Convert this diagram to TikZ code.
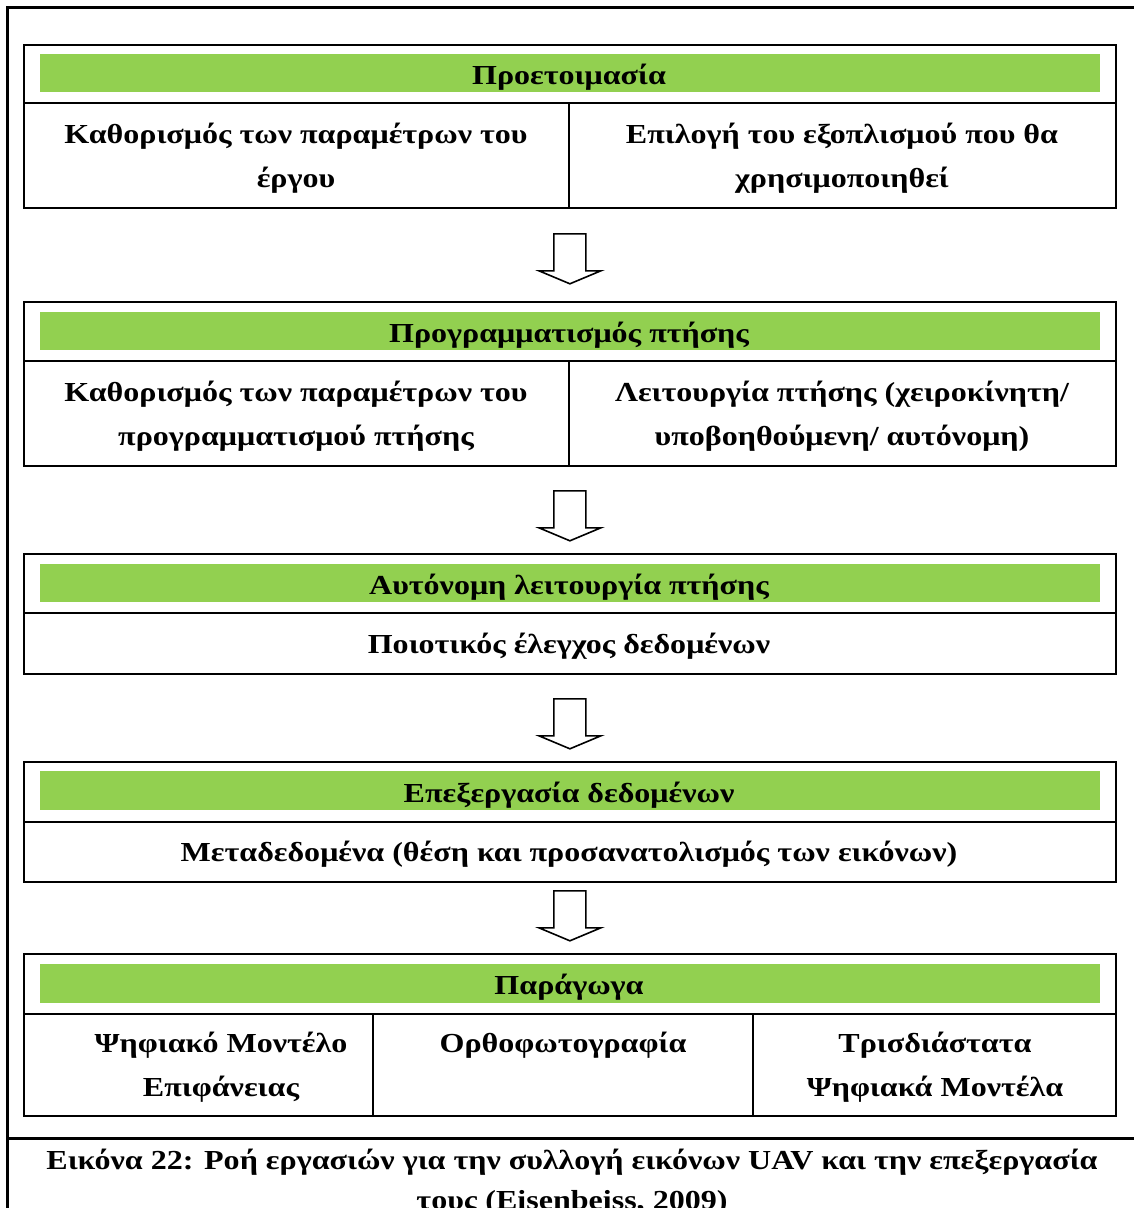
\documentclass[tikz,border=0pt]{standalone}
\usepackage{fontspec}
\setmainfont{Liberation Serif}[FakeStretch=1.165]
\usetikzlibrary{calc}
\definecolor{barGreen}{HTML}{92D050}
\newcommand{\cellfont}{\fontsize{27.5}{44}\selectfont\bfseries}
\newcommand{\twolines}[2]{\begin{tabular}[t]{@{}c@{}}#1\\#2\end{tabular}}
\begin{document}
\begin{tikzpicture}[x=1pt,y=-1pt,
  frame/.style={line width=3pt},
  boxline/.style={line width=1.8pt},
  stagebox/.style={draw, line width=1.8pt, anchor=north west, inner sep=0pt, minimum width=1092pt},
  bar/.style={fill=barGreen, draw=none, inner sep=0pt, minimum width=1060pt, minimum height=38.5pt},
  ttl/.style={font=\cellfont, anchor=base, inner sep=0pt},
  txt/.style={font=\cellfont, anchor=base, inner sep=0pt, align=center},
  blockarrow/.style={draw, line width=1.6pt, fill=white, line join=miter},
]
\useasboundingbox (0,0) rectangle (1134,1208);
% outer frame
\draw[frame] (7,1208) -- (7,7) -- (1134,7);
\draw[frame] (7,1138) -- (1134,1138);

% ---------- Stage 1 ----------
\node[stagebox, minimum height=163pt] (b1) at (23,44) {};
\node[bar] (g1) at (570,73) {};
\node[ttl] (t1) at (569,84) {Προετοιμασία};
\draw[boxline] (23,103) -- (1115,103);
\draw[boxline] (569,103) -- (569,207);
\node[txt] (c11) at (296,143) {\twolines{Καθορισμός των παραμέτρων του}{έργου}};
\node[txt] (c12) at (842,143) {\twolines{Επιλογή του εξοπλισμού που θα}{χρησιμοποιηθεί}};

% ---------- Stage 2 ----------
\node[stagebox, minimum height=164pt] (b2) at (23,301) {};
\node[bar] (g2) at (570,331) {};
\node[ttl] (t2) at (569,342) {Προγραμματισμός πτήσης};
\draw[boxline] (23,361) -- (1115,361);
\draw[boxline] (569,361) -- (569,465);
\node[txt] (c21) at (296,401) {\twolines{Καθορισμός των παραμέτρων του}{προγραμματισμού πτήσης}};
\node[txt] (c22) at (842,401) {\twolines{Λειτουργία πτήσης (χειροκίνητη/}{υποβοηθούμενη/ αυτόνομη)}};

% ---------- Stage 3 ----------
\node[stagebox, minimum height=120pt] (b3) at (23,553) {};
\node[bar] (g3) at (570,583) {};
\node[ttl] (t3) at (569,594) {Αυτόνομη λειτουργία πτήσης};
\draw[boxline] (23,613) -- (1115,613);
\node[txt] (c31) at (569,653) {Ποιοτικός έλεγχος δεδομένων};

% ---------- Stage 4 ----------
\node[stagebox, minimum height=120pt] (b4) at (23,761) {};
\node[bar] (g4) at (570,790.5) {};
\node[ttl] (t4) at (569,802) {Επεξεργασία δεδομένων};
\draw[boxline] (23,822) -- (1115,822);
\node[txt] (c41) at (569,861) {Μεταδεδομένα (θέση και προσανατολισμός των εικόνων)};

% ---------- Stage 5 ----------
\node[stagebox, minimum height=162pt] (b5) at (23,953) {};
\node[bar] (g5) at (570,983.5) {};
\node[ttl] (t5) at (569,994.5) {Παράγωγα};
\draw[boxline] (23,1014) -- (1115,1014);
\draw[boxline] (373,1014) -- (373,1115);
\draw[boxline] (753,1014) -- (753,1115);
\node[txt] (c51) at (221,1052) {\twolines{Ψηφιακό Μοντέλο}{Επιφάνειας}};
\node[txt] (c52) at (563,1052) {Ορθοφωτογραφία};
\node[txt] (c53) at (935,1052) {\twolines{Τρισδιάστατα}{Ψηφιακά Μοντέλα}};

% ---------- arrows between stages ----------
\coordinate (a1) at ($(b1.south)+(0,25)$);
\coordinate (a2) at ($(b2.south)+(0,24)$);
\coordinate (a3) at ($(b3.south)+(0,24)$);
\coordinate (a4) at ($(b4.south)+(0,8)$);
\foreach \a in {a1,a2,a3,a4}{
  \draw[blockarrow, shift={(\a)}] (-16,0) -- (16,0) -- (16,37) -- (31,37) -- (0,50) -- (-31,37) -- (-16,37) -- cycle;
}

% ---------- caption ----------
\node[font=\fontsize{27.5}{40}\selectfont\bfseries, anchor=base, inner sep=0pt] (cap) at (572,1169)
  {\begin{tabular}[t]{@{}c@{}}Εικόνα 22: Ροή εργασιών για την συλλογή εικόνων UAV και την επεξεργασία\\τους (Eisenbeiss, 2009)\end{tabular}};
\end{tikzpicture}
\end{document}
